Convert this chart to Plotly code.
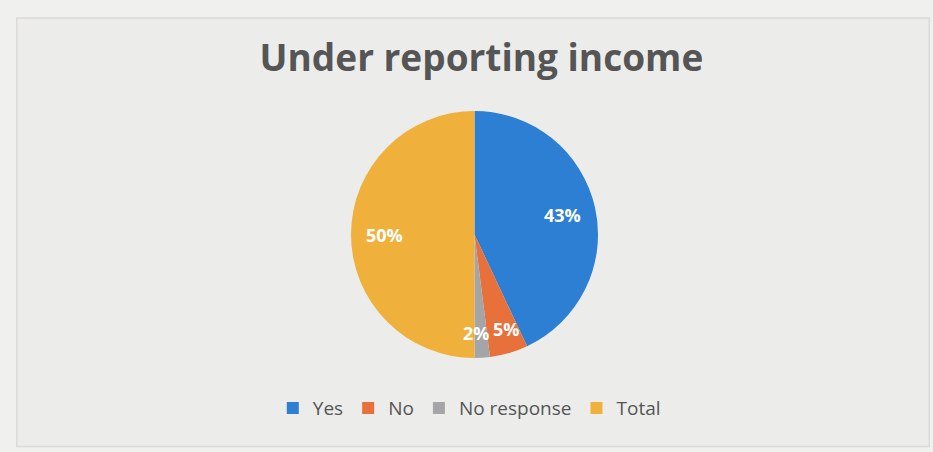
import math
import plotly.graph_objects as go

# Survey responses on under reporting income (percent of total)
labels = ["Yes", "No", "No response", "Total"]
values = [43, 5, 2, 50]
colors = ["#2c7fd2", "#e8703a", "#a4a5a6", "#efb13c"]

W, H = 933, 452
cx, cy, r = 474.5, 234.5, 123.5  # pie centre / radius in pixels
label_size = 18

dom_x = [(cx - r) / W, (cx + r) / W]
dom_y = [(H - (cy + r)) / H, (H - (cy - r)) / H]

fig = go.Figure(go.Pie(
    labels=labels,
    values=values,
    marker=dict(colors=colors, line=dict(width=0)),
    sort=False,
    direction="clockwise",
    rotation=0,
    textinfo="none",
    hoverinfo="label+percent",
    domain=dict(x=dom_x, y=dom_y),
))

# Percentage labels at each slice's mid-angle; thin slices sit nearer the rim
total = sum(values)
spots = []
cum = 0
for v in values:
    frac = v / total
    mid = (cum + frac / 2) * 2 * math.pi
    cum += frac
    rf = 0.73 if frac > 0.1 else 0.8
    spots.append([cx + rf * r * math.sin(mid), cy - rf * r * math.cos(mid),
                  f"{round(frac * 100)}%", frac])

# push neighbouring thin-slice labels apart so they only just touch
small = sorted([s for s in spots if s[3] <= 0.1], key=lambda s: s[0])
min_gap = 30
for a, b in zip(small, small[1:]):
    gap = b[0] - a[0]
    if gap < min_gap:
        shift = (min_gap - gap) / 2
        a[0] -= shift
        b[0] += shift

annotations = [dict(
    x=px / W, y=1 - py / H, xref="paper", yref="paper",
    text=f"<b>{txt}</b>", showarrow=False,
    font=dict(family="Open Sans", size=label_size, color="white"),
    xanchor="center", yanchor="middle", borderpad=0,
) for px, py, txt, _ in spots]

fig.update_layout(
    width=W, height=H,
    margin=dict(l=0, r=0, t=0, b=0),
    paper_bgcolor="#f0f1ef",
    plot_bgcolor="#f0f1ef",
    title=dict(
        text="<b>Under reporting income</b>",
        x=0.516, xanchor="center", y=0.872, yanchor="middle",
        font=dict(family="Open Sans", size=37, color="#555555"),
    ),
    showlegend=True,
    legend=dict(
        orientation="h", x=0.503, xanchor="center", y=0.097, yanchor="middle",
        font=dict(family="Open Sans", size=19, color="#555555"),
        itemwidth=30, traceorder="normal",
        bgcolor="rgba(0,0,0,0)",
    ),
    annotations=annotations,
    shapes=[dict(
        type="rect", xref="paper", yref="paper",
        x0=0.018, x1=0.996, y0=0.012, y1=0.96,
        line=dict(color="#dcd9d7", width=1.5),
        fillcolor="#ecedeb", layer="below",
    )],
)

fig.write_html("out.html")
